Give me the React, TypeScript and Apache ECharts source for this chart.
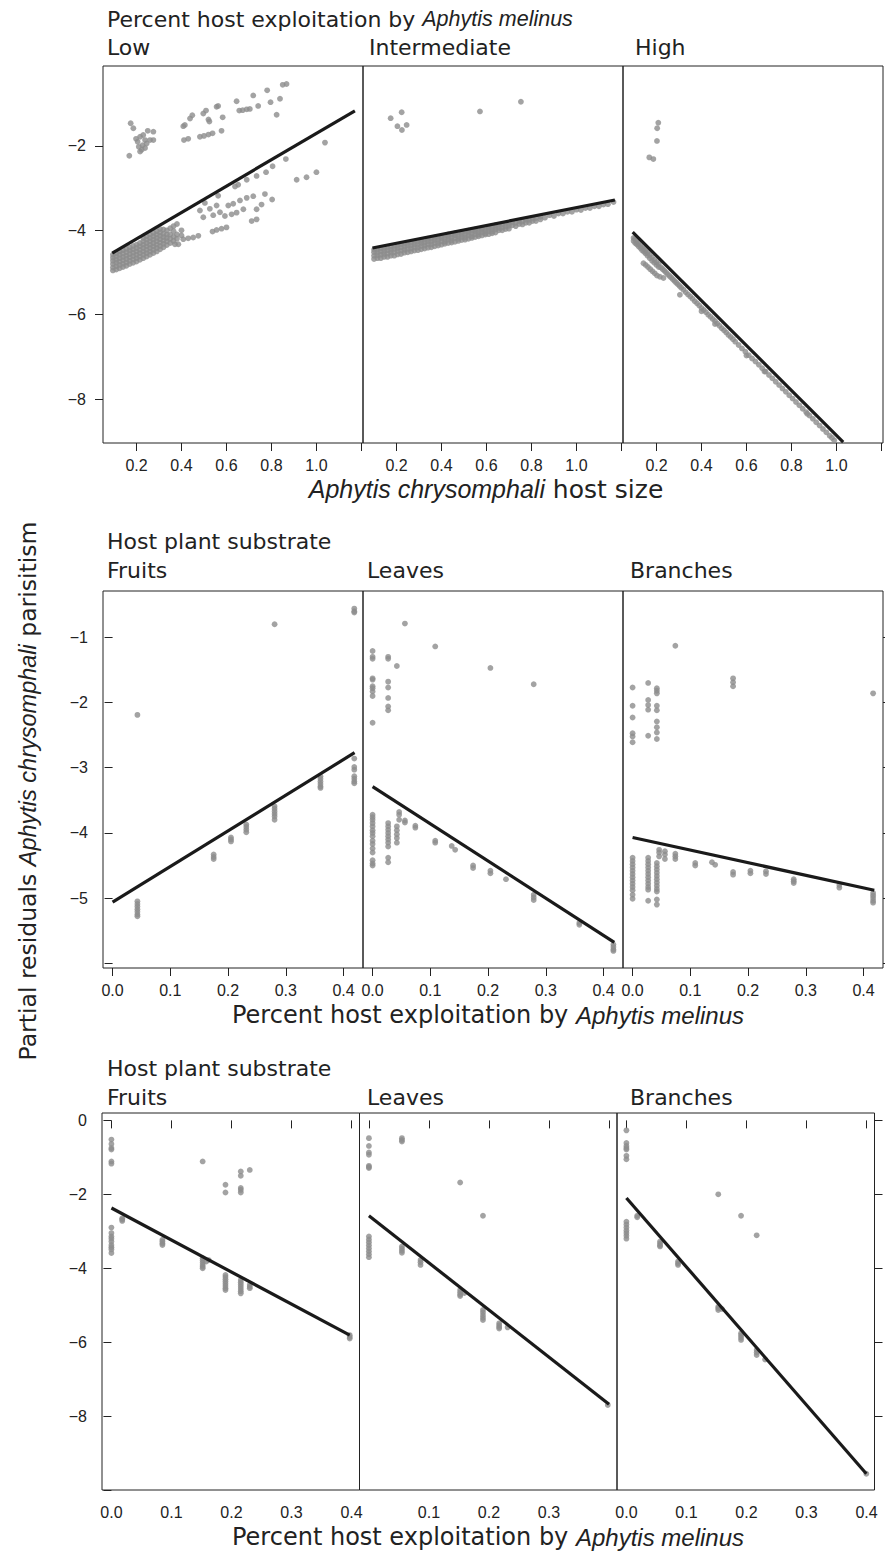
import React, { useEffect, useRef } from "react";
import * as echarts from "echarts";

// ---------- tick values ----------
const topXTicks = [0.2, 0.4, 0.6, 0.8, 1.0, 1.2];
const topXLabels = [0.2, 0.4, 0.6, 0.8, 1.0];
const topYTicks = [-8, -6, -4, -2];
const midXTicks = [0, 0.1, 0.2, 0.3, 0.4];
const midYTicks = [-6, -5, -4, -3, -2, -1];
const midYLabels = [-5, -4, -3, -2, -1];
const botXTicks = [0, 0.1, 0.2, 0.3, 0.4];
const botXLabelsInner = [0.1, 0.2, 0.3];
const botYTicks = [-10, -8, -6, -4, -2, 0];
const botYLabels = [-8, -6, -4, -2, 0];

// ---------- panel names ----------
const sizeGroups = ["Low", "Intermediate", "High"];
const substrates = ["Fruits", "Leaves", "Branches"];

// ---------- fitted lines ----------
const lowFit = [[0.092, -4.54], [1.171, -1.165]];
const intermediateFit = [[0.093, -4.42], [1.171, -3.28]];
const highFit = [[0.094, -4.04], [1.03, -9.02]];
const fruitsMidFit = [[0, -5.06], [0.419, -2.77]];
const leavesMidFit = [[0, -3.29], [0.4185, -5.68]];
const branchesMidFit = [[0, -4.07], [0.4185, -4.88]];
const fruitsBotFit = [[0, -2.37], [0.397, -5.81]];
const leavesBotFit = [[0, -2.58], [0.4, -7.68]];
const branchesBotFit = [[0, -2.1], [0.3997, -9.56]];

// ---------- partial residual points ----------
const lowPoints = [
  [0.174, -1.46], [0.186, -1.58], [0.198, -1.83], [0.216, -1.78], [0.23, -1.74], [0.25, -1.64], [0.275, -1.66],
  [0.238, -1.86], [0.26, -1.86], [0.275, -1.86], [0.227, -1.98], [0.238, -2.05], [0.216, -2.13], [0.168, -2.23],
  [0.223, -2.09], [0.245, -1.94], [0.205, -1.9], [0.21, -2.02],
  [0.408, -1.53], [0.415, -1.5], [0.438, -1.35], [0.448, -1.27], [0.497, -1.23], [0.509, -1.16], [0.52, -1.37],
  [0.524, -1.42], [0.556, -1.07], [0.563, -1.05], [0.583, -1.32], [0.645, -0.94], [0.657, -1.16], [0.672, -1.15],
  [0.69, -1.13], [0.704, -1.12], [0.719, -0.8], [0.741, -1.05], [0.781, -0.68], [0.796, -0.96], [0.823, -1.26],
  [0.838, -0.88], [0.85, -0.55], [0.867, -0.53],
  [0.411, -1.86], [0.43, -1.83], [0.482, -1.78], [0.5, -1.76], [0.52, -1.73], [0.538, -1.7], [0.578, -1.64],
  [1.038, -1.92], [0.912, -2.8], [0.956, -2.74], [1.0, -2.62], [0.864, -2.31], [0.805, -2.48], [0.776, -2.62],
  [0.734, -2.71], [0.69, -2.8], [0.652, -2.92], [0.638, -2.96],
  [0.803, -3.27], [0.771, -3.14], [0.756, -3.39], [0.719, -3.19], [0.69, -3.23], [0.66, -3.29], [0.63, -3.37],
  [0.608, -3.41], [0.734, -3.5], [0.712, -3.78], [0.734, -3.74], [0.675, -3.5], [0.645, -3.58], [0.623, -3.62],
  [0.593, -3.66], [0.6, -3.93], [0.578, -3.96], [0.556, -3.99], [0.538, -4.03], [0.563, -3.18], [0.556, -3.41],
  [0.571, -3.57], [0.541, -3.64], [0.504, -3.35], [0.526, -3.49], [0.482, -3.53], [0.497, -3.69], [0.475, -4.13],
  [0.452, -4.17], [0.43, -4.19], [0.408, -4.21], [0.386, -4.33], [0.371, -4.33],
  [0.095, -4.95], [0.095, -4.88], [0.095, -4.8], [0.095, -4.72], [0.095, -4.65], [0.095, -4.58],
  [0.11, -4.93], [0.11, -4.85], [0.11, -4.77], [0.11, -4.7], [0.11, -4.62], [0.11, -4.55],
  [0.125, -4.9], [0.125, -4.82], [0.125, -4.74], [0.125, -4.66], [0.125, -4.58], [0.125, -4.5],
  [0.14, -4.87], [0.14, -4.79], [0.14, -4.71], [0.14, -4.63], [0.14, -4.55], [0.14, -4.47],
  [0.155, -4.84], [0.155, -4.76], [0.155, -4.68], [0.155, -4.6], [0.155, -4.52], [0.155, -4.44],
  [0.17, -4.8], [0.17, -4.72], [0.17, -4.64], [0.17, -4.56], [0.17, -4.48], [0.17, -4.41],
  [0.185, -4.77], [0.185, -4.69], [0.185, -4.61], [0.185, -4.53], [0.185, -4.45], [0.185, -4.37],
  [0.2, -4.74], [0.2, -4.66], [0.2, -4.58], [0.2, -4.5], [0.2, -4.42], [0.2, -4.34],
  [0.215, -4.7], [0.215, -4.62], [0.215, -4.54], [0.215, -4.46], [0.215, -4.38], [0.215, -4.3],
  [0.23, -4.66], [0.23, -4.58], [0.23, -4.5], [0.23, -4.42], [0.23, -4.34], [0.23, -4.26], [0.23, -4.18],
  [0.245, -4.62], [0.245, -4.54], [0.245, -4.46], [0.245, -4.38], [0.245, -4.3], [0.245, -4.22], [0.245, -4.14],
  [0.26, -4.58], [0.26, -4.5], [0.26, -4.42], [0.26, -4.34], [0.26, -4.26], [0.26, -4.18], [0.26, -4.1],
  [0.275, -4.54], [0.275, -4.46], [0.275, -4.38], [0.275, -4.3], [0.275, -4.22], [0.275, -4.14], [0.275, -4.06],
  [0.29, -4.5], [0.29, -4.42], [0.29, -4.34], [0.29, -4.26], [0.29, -4.18], [0.29, -4.1], [0.29, -4.02],
  [0.305, -4.45], [0.305, -4.37], [0.305, -4.29], [0.305, -4.21], [0.305, -4.13], [0.305, -4.05], [0.305, -3.97],
  [0.32, -4.4], [0.32, -4.32], [0.32, -4.24], [0.32, -4.16], [0.32, -4.08], [0.32, -3.98],
  [0.335, -4.35], [0.335, -4.26], [0.335, -4.18], [0.335, -4.1], [0.335, -4.0],
  [0.35, -4.3], [0.35, -4.2], [0.35, -4.1], [0.35, -3.95],
  [0.365, -4.25], [0.365, -4.15], [0.365, -4.02], [0.365, -3.9],
  [0.38, -4.2], [0.38, -4.1], [0.38, -3.85], [0.4, -4.12], [0.4, -4.0],
];

const intermediatePoints = [
  [0.174, -1.34], [0.223, -1.2], [0.204, -1.53], [0.224, -1.62], [0.245, -1.5], [0.571, -1.18], [0.753, -0.95],
  [0.1, -4.68], [0.1, -4.6], [0.1, -4.52], [0.1, -4.46],
  [0.115, -4.66], [0.115, -4.59], [0.115, -4.52], [0.115, -4.45],
  [0.13, -4.66], [0.13, -4.58], [0.13, -4.5], [0.13, -4.43],
  [0.145, -4.63], [0.145, -4.56], [0.145, -4.49], [0.145, -4.42],
  [0.16, -4.63], [0.16, -4.55], [0.16, -4.47], [0.16, -4.4],
  [0.175, -4.6], [0.175, -4.53], [0.175, -4.46], [0.175, -4.39],
  [0.19, -4.6], [0.19, -4.52], [0.19, -4.44], [0.19, -4.37],
  [0.205, -4.57], [0.205, -4.49], [0.205, -4.42], [0.205, -4.35],
  [0.22, -4.56], [0.22, -4.48], [0.22, -4.4], [0.22, -4.33],
  [0.235, -4.53], [0.235, -4.46], [0.235, -4.39], [0.235, -4.32],
  [0.25, -4.52], [0.25, -4.44], [0.25, -4.36], [0.25, -4.3],
  [0.265, -4.5], [0.265, -4.43], [0.265, -4.36], [0.265, -4.29],
  [0.28, -4.48], [0.28, -4.4], [0.28, -4.33], [0.28, -4.27],
  [0.295, -4.47], [0.295, -4.4], [0.295, -4.33], [0.295, -4.26],
  [0.31, -4.45], [0.31, -4.37], [0.31, -4.3], [0.31, -4.24],
  [0.325, -4.43], [0.325, -4.36], [0.325, -4.29], [0.325, -4.22],
  [0.34, -4.41], [0.34, -4.33], [0.34, -4.26], [0.34, -4.2],
  [0.355, -4.4], [0.355, -4.33], [0.355, -4.26], [0.355, -4.19],
  [0.37, -4.38], [0.37, -4.3], [0.37, -4.23], [0.37, -4.17],
  [0.385, -4.36], [0.385, -4.3], [0.385, -4.23], [0.385, -4.16],
  [0.4, -4.34], [0.4, -4.26], [0.4, -4.19], [0.4, -4.14],
  [0.415, -4.32], [0.415, -4.27], [0.415, -4.2], [0.415, -4.13],
  [0.43, -4.3], [0.43, -4.22], [0.43, -4.16], [0.43, -4.1],
  [0.445, -4.29], [0.445, -4.24], [0.445, -4.17], [0.445, -4.1],
  [0.46, -4.27], [0.46, -4.19], [0.46, -4.12], [0.46, -4.07],
  [0.475, -4.25], [0.475, -4.2], [0.475, -4.13], [0.475, -4.06],
  [0.49, -4.23], [0.49, -4.16], [0.49, -4.09], [0.49, -4.04],
  [0.505, -4.22], [0.505, -4.17], [0.505, -4.1], [0.505, -4.03],
  [0.52, -4.2], [0.52, -4.12], [0.52, -4.06], [0.52, -4.01],
  [0.535, -4.18], [0.535, -4.14], [0.535, -4.07], [0.535, -4.0],
  [0.55, -4.16], [0.55, -4.09], [0.55, -4.02], [0.55, -3.98],
  [0.565, -4.14], [0.565, -4.1], [0.565, -4.04], [0.565, -3.97],
  [0.58, -4.12], [0.58, -4.05], [0.58, -3.99], [0.58, -3.95],
  [0.595, -4.1], [0.595, -4.07], [0.595, -4.01], [0.595, -3.94],
  [0.61, -4.09], [0.61, -4.02], [0.61, -3.96], [0.61, -3.92],
  [0.625, -4.07], [0.625, -4.03], [0.625, -3.97], [0.625, -3.9],
  [0.64, -4.05], [0.64, -3.98], [0.64, -3.92], [0.64, -3.88],
  [0.655, -4.0], [0.655, -3.94], [0.655, -3.87],
  [0.67, -4.0], [0.67, -3.93], [0.67, -3.86],
  [0.685, -3.97], [0.685, -3.91], [0.685, -3.84],
  [0.7, -3.96], [0.7, -3.89], [0.7, -3.83],
  [0.715, -3.88], [0.715, -3.81],
  [0.73, -3.9], [0.73, -3.82], [0.745, -3.85], [0.745, -3.78],
  [0.76, -3.86], [0.76, -3.79], [0.775, -3.82], [0.775, -3.75],
  [0.79, -3.82], [0.79, -3.75], [0.805, -3.78], [0.805, -3.72],
  [0.82, -3.78], [0.82, -3.71], [0.84, -3.74], [0.84, -3.68],
  [0.86, -3.7], [0.88, -3.64], [0.9, -3.66], [0.92, -3.6], [0.94, -3.6], [0.96, -3.56], [0.98, -3.56],
  [1.0, -3.51], [1.02, -3.52], [1.04, -3.47], [1.06, -3.47], [1.08, -3.43], [1.1, -3.43], [1.12, -3.39],
  [1.14, -3.38], [1.165, -3.33],
];

const highPoints = [
  [0.208, -1.45], [0.203, -1.58], [0.202, -1.88], [0.168, -2.27], [0.186, -2.31],
  [0.098, -4.18], [0.098, -4.25], [0.105, -4.2], [0.105, -4.3], [0.112, -4.25], [0.112, -4.33],
  [0.12, -4.3], [0.12, -4.38], [0.128, -4.35], [0.128, -4.42], [0.136, -4.4], [0.136, -4.47],
  [0.144, -4.44], [0.144, -4.51], [0.152, -4.49], [0.152, -4.55], [0.16, -4.53], [0.16, -4.6],
  [0.17, -4.58], [0.17, -4.66], [0.18, -4.64], [0.18, -4.72], [0.19, -4.7], [0.19, -4.77],
  [0.2, -4.75], [0.2, -4.82], [0.21, -4.8], [0.21, -4.87],
  [0.142, -4.78], [0.152, -4.82], [0.162, -4.87], [0.172, -4.92], [0.182, -4.97], [0.192, -5.02],
  [0.202, -5.07], [0.215, -5.1], [0.231, -5.13], [0.304, -5.53],
  [0.22, -4.88], [0.235, -4.96], [0.25, -5.04], [0.265, -5.12], [0.28, -5.2], [0.295, -5.28],
  [0.31, -5.36], [0.33, -5.47], [0.35, -5.57], [0.37, -5.68], [0.39, -5.78], [0.41, -5.89],
  [0.43, -6.0], [0.45, -6.1], [0.47, -6.21], [0.49, -6.32], [0.51, -6.42], [0.53, -6.53],
  [0.55, -6.64], [0.58, -6.8], [0.61, -6.96], [0.64, -7.11], [0.67, -7.27], [0.7, -7.43],
  [0.73, -7.59], [0.76, -7.75], [0.79, -7.91], [0.82, -8.07], [0.85, -8.23], [0.88, -8.39],
  [0.91, -8.55], [0.94, -8.71], [0.97, -8.87], [0.99, -8.98],
  [0.2275, -4.92], [0.2425, -5.0], [0.2575, -5.08], [0.2725, -5.16], [0.2875, -5.24], [0.3025, -5.32],
  [0.32, -5.41], [0.34, -5.52], [0.36, -5.62], [0.38, -5.73], [0.4, -5.84], [0.42, -5.94],
  [0.44, -6.05], [0.46, -6.15], [0.48, -6.26], [0.5, -6.37], [0.52, -6.48], [0.54, -6.58],
  [0.565, -6.72], [0.595, -6.88], [0.625, -7.04], [0.655, -7.19], [0.685, -7.35], [0.715, -7.51],
  [0.745, -7.67], [0.775, -7.83], [0.805, -7.99], [0.835, -8.15], [0.865, -8.31], [0.895, -8.47],
  [0.925, -8.63], [0.955, -8.79], [0.98, -8.92],
  [0.4, -5.92], [0.46, -6.22], [0.6, -6.97], [0.68, -7.35], [0.87, -8.35],
];

const fruitsMidPoints = [
  [0.043, -2.19],
  [0.043, -5.05], [0.043, -5.09], [0.043, -5.13], [0.043, -5.17], [0.043, -5.21], [0.043, -5.25], [0.043, -5.28],
  [0.175, -4.33], [0.175, -4.37], [0.175, -4.4],
  [0.205, -4.07], [0.205, -4.1], [0.205, -4.13],
  [0.2315, -3.87], [0.2315, -3.91], [0.2315, -3.95], [0.2315, -3.99],
  [0.2805, -3.59], [0.2805, -3.63], [0.2805, -3.67], [0.2805, -3.71], [0.2805, -3.75], [0.2805, -3.8],
  [0.2805, -0.8],
  [0.36, -3.13], [0.36, -3.17], [0.36, -3.21], [0.36, -3.25], [0.36, -3.29], [0.36, -3.31],
  [0.4185, -2.86], [0.4185, -2.99], [0.4185, -3.03], [0.4185, -3.13], [0.4185, -3.17], [0.4185, -3.21], [0.4185, -3.24],
  [0.4185, -0.56], [0.4185, -0.6], [0.4185, -0.62],
];

const leavesMidPoints = [
  [0, -1.21], [0, -1.3], [0, -1.33], [0, -1.63], [0, -1.65], [0, -1.75], [0, -1.78], [0, -1.83], [0, -1.9], [0, -2.31],
  [0, -3.72], [0, -3.76], [0, -3.8], [0, -3.85], [0, -3.9], [0, -3.96], [0, -4.0], [0, -4.05], [0, -4.12],
  [0, -4.17], [0, -4.24], [0, -4.3], [0, -4.42], [0, -4.47], [0, -4.5],
  [0.027, -1.3], [0.027, -1.33], [0.027, -1.68], [0.027, -1.77], [0.027, -1.93], [0.027, -2.06], [0.027, -2.12],
  [0.027, -3.85], [0.027, -3.9], [0.027, -3.95], [0.027, -4.0], [0.027, -4.05], [0.027, -4.1], [0.027, -4.15],
  [0.027, -4.21], [0.027, -4.38], [0.027, -4.45],
  [0.042, -1.44], [0.042, -3.9], [0.042, -3.96], [0.042, -4.02], [0.042, -4.08], [0.042, -4.15],
  [0.046, -3.68], [0.046, -3.72], [0.046, -3.8],
  [0.056, -0.79], [0.056, -3.81], [0.056, -3.84],
  [0.074, -3.89], [0.074, -3.92],
  [0.1085, -1.14], [0.1085, -4.12], [0.1085, -4.15],
  [0.137, -4.2], [0.143, -4.26],
  [0.174, -4.5], [0.174, -4.54],
  [0.204, -1.47], [0.204, -4.58], [0.204, -4.62],
  [0.231, -4.71],
  [0.279, -1.72], [0.279, -4.95], [0.279, -4.99], [0.279, -5.03],
  [0.358, -5.38], [0.358, -5.41],
  [0.417, -5.71], [0.417, -5.75], [0.417, -5.79], [0.417, -5.81],
];

const branchesMidPoints = [
  [0, -1.77], [0, -2.05], [0, -2.23], [0, -2.47], [0, -2.52], [0, -2.61],
  [0, -4.38], [0, -4.43], [0, -4.48], [0, -4.53], [0, -4.58], [0, -4.63], [0, -4.68], [0, -4.73], [0, -4.78],
  [0, -4.83], [0, -4.88], [0, -4.95], [0, -5.01],
  [0.027, -1.7], [0.027, -1.96], [0.027, -2.04], [0.027, -2.11], [0.027, -2.51],
  [0.027, -4.38], [0.027, -4.43], [0.027, -4.48], [0.027, -4.53], [0.027, -4.58], [0.027, -4.63], [0.027, -4.68],
  [0.027, -4.73], [0.027, -4.78], [0.027, -4.83], [0.027, -4.87], [0.027, -5.04],
  [0.042, -1.78], [0.042, -1.82], [0.042, -1.86], [0.042, -2.05], [0.042, -2.12], [0.042, -2.29], [0.042, -2.38],
  [0.042, -2.46], [0.042, -2.56],
  [0.042, -4.46], [0.042, -4.51], [0.042, -4.56], [0.042, -4.61], [0.042, -4.66], [0.042, -4.71], [0.042, -4.76],
  [0.042, -4.81], [0.042, -4.86], [0.042, -4.9], [0.042, -5.02], [0.042, -5.1],
  [0.046, -4.26], [0.046, -4.3], [0.046, -4.36],
  [0.056, -4.28], [0.056, -4.33], [0.056, -4.4],
  [0.074, -1.13], [0.074, -4.32], [0.074, -4.36], [0.074, -4.4],
  [0.1085, -4.46], [0.1085, -4.5],
  [0.1375, -4.45], [0.143, -4.49],
  [0.174, -1.63], [0.174, -1.69], [0.174, -1.75], [0.174, -4.6], [0.174, -4.64],
  [0.204, -4.58], [0.204, -4.62],
  [0.231, -4.59], [0.231, -4.63],
  [0.279, -4.71], [0.279, -4.74], [0.279, -4.77],
  [0.358, -4.8], [0.358, -4.84],
  [0.4165, -1.86], [0.4165, -4.92], [0.4165, -4.96], [0.4165, -5.0], [0.4165, -5.04], [0.4165, -5.07],
];

const fruitsBotPoints = [
  [0, -0.52], [0, -0.64], [0, -0.75], [0, -0.79], [0, -1.11], [0, -1.17],
  [0, -2.9], [0, -3.05], [0, -3.14], [0, -3.2], [0, -3.28], [0, -3.37], [0, -3.43], [0, -3.49], [0, -3.59],
  [0.018, -2.65], [0.018, -2.68], [0.018, -2.72],
  [0.085, -3.23], [0.085, -3.28], [0.085, -3.33], [0.085, -3.37],
  [0.152, -1.11], [0.152, -3.73], [0.152, -3.79], [0.152, -3.85], [0.152, -3.91], [0.152, -3.96], [0.152, -4.0],
  [0.158, -3.82], [0.162, -3.78],
  [0.19, -1.74], [0.19, -1.95], [0.19, -4.18], [0.19, -4.24], [0.19, -4.3], [0.19, -4.36], [0.19, -4.42],
  [0.19, -4.48], [0.19, -4.54], [0.19, -4.59],
  [0.2155, -1.38], [0.2155, -1.5], [0.2155, -1.83], [0.2155, -1.88], [0.2155, -1.95], [0.2155, -4.32],
  [0.2155, -4.38], [0.2155, -4.44], [0.2155, -4.5], [0.2155, -4.56], [0.2155, -4.62], [0.2155, -4.68],
  [0.2305, -1.34], [0.2305, -4.45], [0.2305, -4.5], [0.2305, -4.54],
  [0.397, -5.81], [0.397, -5.86], [0.397, -5.9],
];

const leavesBotPoints = [
  [0, -0.48], [0, -0.69], [0, -0.87], [0, -0.93], [0, -1.23], [0, -1.26], [0, -1.29],
  [0, -3.14], [0, -3.22], [0, -3.3], [0, -3.38], [0, -3.46], [0, -3.54], [0, -3.62], [0, -3.7],
  [0.055, -0.48], [0.055, -0.53], [0.055, -0.57], [0.055, -3.41], [0.055, -3.47], [0.055, -3.53], [0.055, -3.58],
  [0.086, -3.78], [0.086, -3.84], [0.086, -3.91],
  [0.152, -1.68], [0.152, -4.59], [0.152, -4.65], [0.152, -4.71], [0.152, -4.75], [0.159, -4.67],
  [0.19, -2.58], [0.19, -5.13], [0.19, -5.2], [0.19, -5.27], [0.19, -5.34], [0.19, -5.4],
  [0.217, -5.49], [0.217, -5.54], [0.217, -5.59], [0.217, -5.63],
  [0.231, -5.6],
  [0.398, -7.7],
];

const branchesBotPoints = [
  [0, -0.27], [0, -0.61], [0, -0.69], [0, -0.75], [0, -0.79], [0, -0.96], [0, -1.05],
  [0, -2.74], [0, -2.82], [0, -2.9], [0, -2.98], [0, -3.05], [0, -3.12], [0, -3.2],
  [0.018, -2.58], [0.018, -2.62],
  [0.056, -3.28], [0.056, -3.33], [0.056, -3.38], [0.056, -3.41],
  [0.086, -3.82], [0.086, -3.87], [0.086, -3.91],
  [0.153, -2.0], [0.153, -5.04], [0.153, -5.08], [0.153, -5.13], [0.159, -5.1],
  [0.191, -2.58], [0.191, -5.76], [0.191, -5.82], [0.191, -5.88], [0.191, -5.94],
  [0.217, -3.11], [0.217, -6.21], [0.217, -6.28], [0.217, -6.35],
  [0.231, -6.47],
  [0.3997, -9.56],
];

// ---------- layout / styling ----------
const TITLE_FONT = '"DejaVu Sans", "Noto Sans", sans-serif';
const ITALIC_FONT = '"Liberation Sans", Arial, sans-serif';
const TICK_FONT_X = '"Liberation Sans Narrow", "Liberation Sans", Arial, sans-serif';
const TICK_FONT_Y = '"Liberation Sans", Arial, sans-serif';
const INK = "#222222";
const POINT = "#8c8c8c";

type Row = {
  top: number; height: number; lefts: number[]; width: number;
  xMin: number; xMax: number; yMin: number; yMax: number;
  xTicks: number[]; xLabels: number[][]; yTicks: number[]; yLabels: number[];
  yMargin: number; rightTicks: boolean;
  points: number[][][]; fits: number[][][];
};

const rows: Row[] = [
  {
    top: 66, height: 377, lefts: [103, 363, 623], width: 260,
    xMin: 0.051, xMax: 1.207, yMin: -9.043, yMax: -0.103,
    xTicks: topXTicks, xLabels: [topXLabels, topXLabels, topXLabels],
    yTicks: topYTicks, yLabels: topYTicks, yMargin: 17, rightTicks: false,
    points: [lowPoints, intermediatePoints, highPoints],
    fits: [lowFit, intermediateFit, highFit],
  },
  {
    top: 591, height: 377, lefts: [103, 363, 623], width: 260,
    xMin: -0.0166, xMax: 0.4336, yMin: -6.072, yMax: -0.29,
    xTicks: midXTicks, xLabels: [midXTicks, midXTicks, midXTicks],
    yTicks: midYTicks, yLabels: midYLabels, yMargin: 15, rightTicks: true,
    points: [fruitsMidPoints, leavesMidPoints, branchesMidPoints],
    fits: [fruitsMidFit, leavesMidFit, branchesMidFit],
  },
  {
    top: 1113, height: 377, lefts: [102, 359.5, 617], width: 257.5,
    xMin: -0.0157, xMax: 0.4133, yMin: -10, yMax: 0.2,
    xTicks: botXTicks, xLabels: [botXTicks, botXLabelsInner, botXTicks],
    yTicks: botYTicks, yLabels: botYLabels, yMargin: 15, rightTicks: true,
    points: [fruitsBotPoints, leavesBotPoints, branchesBotPoints],
    fits: [fruitsBotFit, leavesBotFit, branchesBotFit],
  },
];

const fmtY = (v: number) => (v === 0 ? "0" : (v < 0 ? "\u2212" : "") + Math.abs(v));

function buildOption() {
  const grid: any[] = [];
  const xAxis: any[] = [];
  const yAxis: any[] = [];
  const series: any[] = [];
  rows.forEach((row) => {
    row.lefts.forEach((left, p) => {
      const gi = grid.length;
      grid.push({
        left, top: row.top, width: row.width, height: row.height,
        show: true, borderColor: INK, borderWidth: 1, backgroundColor: "transparent",
      });
      const xi = xAxis.length;
      xAxis.push({
        type: "value", gridIndex: gi, min: row.xMin, max: row.xMax,
        axisLine: { show: false }, splitLine: { show: false },
        axisTick: { show: true, inside: false, length: 8, customValues: row.xTicks, lineStyle: { color: INK, width: 1 } },
        axisLabel: {
          show: true, customValues: row.xLabels[p], margin: 14, fontSize: 16,
          fontFamily: TICK_FONT_X, color: INK, formatter: (v: number) => v.toFixed(1),
        },
      });
      const yi = yAxis.length;
      yAxis.push({
        type: "value", gridIndex: gi, min: row.yMin, max: row.yMax, position: "left",
        axisLine: { show: false }, splitLine: { show: false },
        axisTick: { show: p === 0, inside: false, length: 8, customValues: row.yTicks, lineStyle: { color: INK, width: 1 } },
        axisLabel: {
          show: p === 0, customValues: row.yLabels, margin: row.yMargin, fontSize: 16,
          fontFamily: TICK_FONT_Y, color: INK, formatter: fmtY,
        },
      });
      if (p === 2 && row.rightTicks) {
        yAxis.push({
          type: "value", gridIndex: gi, min: row.yMin, max: row.yMax, position: "right",
          axisLine: { show: false }, splitLine: { show: false },
          axisTick: { show: true, inside: false, length: 8, customValues: row.yTicks.filter((t) => t > row.yMin), lineStyle: { color: INK, width: 1 } },
          axisLabel: { show: false },
        });
      }
      series.push({
        type: "scatter", xAxisIndex: xi, yAxisIndex: yi, data: row.points[p],
        symbol: "circle", symbolSize: 5.8, itemStyle: { color: POINT }, z: 2, silent: true,
      });
      series.push({
        type: "line", xAxisIndex: xi, yAxisIndex: yi, data: row.fits[p],
        symbol: "none", lineStyle: { color: "#1a1a1a", width: 3.2 }, z: 3, silent: true,
      });
    });
  });

  const txt = (x: number, y: number, text: string, size: number, align: string = "left", italicSize?: number) => ({
    type: "text", x, y, silent: true,
    style: {
      text, fontSize: size, fontFamily: TITLE_FONT, fill: INK,
      align, verticalAlign: "middle",
      rich: {
        r: { fontSize: size, fontFamily: TITLE_FONT, fill: INK },
        i: { fontStyle: "italic", fontSize: italicSize || size, fontFamily: ITALIC_FONT, fill: INK },
      },
    },
  });

  const graphic: any[] = [
    txt(107, 19, "{r|Percent host exploitation by }{i|Aphytis melinus}", 22, "left", 21.5),
    txt(107, 47, sizeGroups[0], 22),
    txt(369, 47, sizeGroups[1], 22),
    txt(635, 47, sizeGroups[2], 22),
    txt(486, 489, "{i|Aphytis chrysomphali}{r| host size}", 25, "center"),
    txt(107, 541, "Host plant substrate", 22),
    txt(107, 570, substrates[0], 22),
    txt(367, 570, substrates[1], 22),
    txt(630, 570, substrates[2], 22),
    txt(488, 1015, "{r|Percent host exploitation by }{i|Aphytis melinus}", 24, "center"),
    txt(107, 1068, "Host plant substrate", 22),
    txt(107, 1097, substrates[0], 22),
    txt(367, 1097, substrates[1], 22),
    txt(630, 1097, substrates[2], 22),
    txt(488, 1537, "{r|Percent host exploitation by }{i|Aphytis melinus}", 24, "center"),
    { ...txt(28, 791, "{r|Partial residuals }{i|Aphytis chrysomphali}{r| parisitism}", 23.5, "center"), rotation: Math.PI / 2 },
  ];

  return { animation: false, backgroundColor: "#ffffff", grid, xAxis, yAxis, series, graphic };
}

export default function App() {
  const ref = useRef<HTMLDivElement>(null);
  useEffect(() => {
    document.body.style.margin = "0";
    const chart = echarts.init(ref.current!, null, { renderer: "svg" });
    chart.setOption(buildOption() as any);
    return () => chart.dispose();
  }, []);
  return <div ref={ref} style={{ width: 885, height: 1552 }} />;
}
